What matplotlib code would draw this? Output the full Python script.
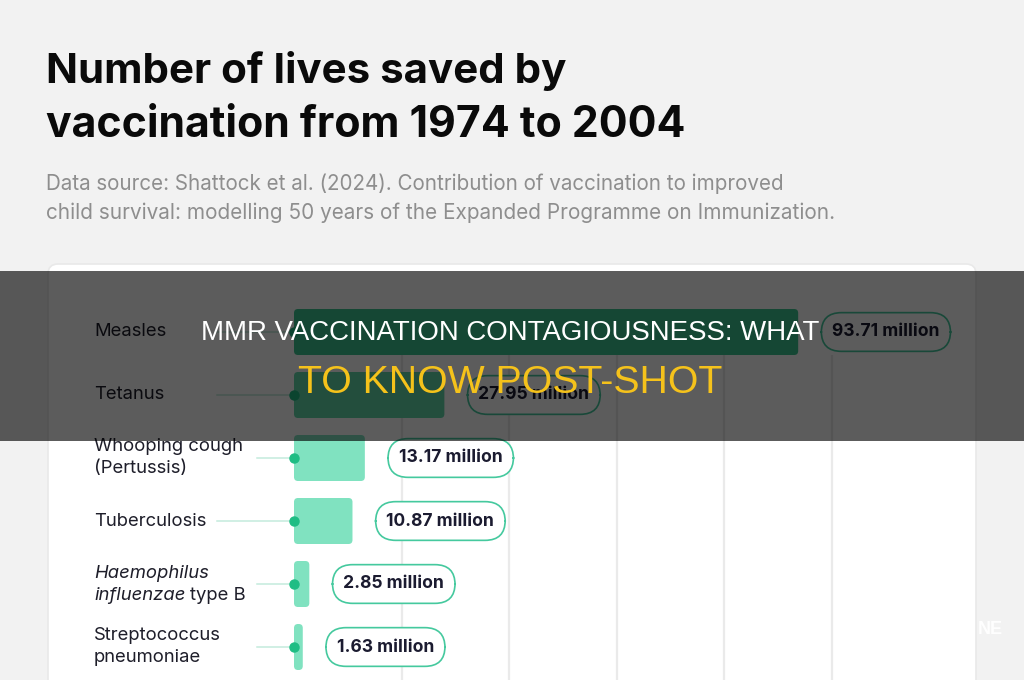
import matplotlib
matplotlib.use("Agg")
import matplotlib.pyplot as plt
from matplotlib.patches import FancyBboxPatch, Rectangle
import matplotlib.transforms as mtransforms

# ---------------- data ----------------
categories = ["Measles", "Tetanus", "Whooping cough\n(Pertussis)", "Tuberculosis",
              "Haemophilus\ninfluenzae type B", "Streptococcus\npneumoniae"]
values = [93.71, 27.95, 13.17, 10.87, 2.85, 1.63]
value_labels = ["93.71 million", "27.95 million", "13.17 million", "10.87 million",
                "2.85 million", "1.63 million"]
grid_values = [20, 40, 60, 80, 100]
bar_colors = ["#3cc690", "#62d8ab", "#80e2c0", "#80e2c0", "#80e2c0", "#80e2c0"]

title_lines = ["Number of lives saved by", "vaccination from 1974 to 2004"]
subtitle_lines = ["Data source: Shattock et al. (2024). Contribution of vaccination to improved",
                  "child survival: modelling 50 years of the Expanded Programme on Immunization."]
banner_lines = ["MMR VACCINATION CONTAGIOUSNESS: WHAT", "TO KNOW POST-SHOT"]

W, H = 1024, 680
fig = plt.figure(figsize=(W / 100, H / 100), dpi=100)
fig.patch.set_facecolor("#f2f2f2")
renderer = fig.canvas.get_renderer()


def fit(t, target_w):
    bb = t.get_window_extent(renderer)
    t.set_fontsize(t.get_fontsize() * target_w / bb.width)


# background axes in pixel coords
bg = fig.add_axes([0, 0, 1, 1], zorder=0)
bg.set_xlim(0, W)
bg.set_ylim(H, 0)
bg.axis("off")
bg.set_facecolor("none")

# white card
card = FancyBboxPatch((48, 264), 928, 460, boxstyle="round,pad=0,rounding_size=10",
                      fc="white", ec="#e9e9e9", lw=1.2)
bg.add_patch(card)

# title & subtitle
title_base = [83, 137]
title_w = [521, 640]
for line, yb, tw in zip(title_lines, title_base, title_w):
    t = bg.text(46, yb, line, fontsize=36, fontweight="bold", family=["Inter", "DejaVu Sans"],
                color="#0a0a0a", ha="left", va="baseline")
    fit(t, tw)

sub_base = [190, 219]
sub_w = [740, 790]
for line, yb, tw in zip(subtitle_lines, sub_base, sub_w):
    t = bg.text(46, yb, line, fontsize=16, family=["Inter", "DejaVu Sans"],
                color="#8e8e8e", ha="left", va="baseline")
    fit(t, tw)

# ---------------- chart axes ----------------
px_per_m = 5.38
x0_px, x1_px = 294, 976
top_px, bot_px = 264, H
row0_px, row_step = 332, 63
ax = fig.add_axes([x0_px / W, 0, (x1_px - x0_px) / W, (bot_px - top_px) / H], zorder=1)
ax.set_facecolor("none")
ax.set_xlim(0, (x1_px - x0_px) / px_per_m)
ax.set_ylim((bot_px - row0_px) / row_step, (top_px - row0_px) / row_step)
ax.axis("off")

ypos = list(range(len(categories)))
ymax = (bot_px - row0_px) / row_step
ax.vlines(grid_values, (355 - row0_px) / row_step, ymax, colors="#eaeaea", lw=1.6, zorder=0)

bars = ax.barh(ypos, values, height=46 / row_step, color=bar_colors)
x_unit = 1 / px_per_m
y_unit = 1 / row_step
for b, c in zip(bars, bar_colors):
    x, y = b.get_x(), b.get_y()
    w, h = b.get_width(), b.get_height()
    b.remove()
    r = min(4 * x_unit, w / 2)
    p = FancyBboxPatch((x, y), w, h, boxstyle=f"round,pad=0,rounding_size={r}",
                       mutation_aspect=y_unit / x_unit, fc=c, ec="none", zorder=2)
    ax.add_patch(p)

blend = mtransforms.blended_transform_factory(ax.transAxes, ax.transData)
axw = x1_px - x0_px
lab_x = (94 - x0_px) / axw
label_font = ["Inter", "DejaVu Sans"]
half = 11 / row_step
for yi, cat, v, vl in zip(ypos, categories, values, value_labels):
    two = "\n" in cat
    start = (257 if two else 217) - x0_px
    ax.plot([start / axw, 0], [yi, yi], transform=blend, color="#c4ebdc", lw=1.1,
            clip_on=False, zorder=1)
    ax.plot([0], [yi], "o", color="#1fbd84", ms=6.5, clip_on=False, zorder=3)
    if cat.startswith("Haemophilus"):
        ax.text(lab_x, yi - half, "Haemophilus", transform=blend, style="italic",
                fontsize=13.3, family=label_font, color="#1e1e2a", va="center", ha="left")
        t2 = ax.text(lab_x, yi + half, "influenzae", transform=blend, style="italic",
                     fontsize=13.3, family=label_font, color="#1e1e2a", va="center", ha="left")
        ax.annotate("type B", xy=(1, 0), xycoords=t2, xytext=(3.5, 0),
                    textcoords="offset points", fontsize=13.3, family=label_font,
                    color="#1e1e2a", va="bottom", ha="left")
    elif two:
        l1, l2 = cat.split("\n")
        ax.text(lab_x, yi - half, l1, transform=blend, fontsize=13.3, family=label_font,
                color="#1e1e2a", va="center", ha="left")
        ax.text(lab_x, yi + half, l2, transform=blend, fontsize=13.3, family=label_font,
                color="#1e1e2a", va="center", ha="left")
    else:
        ax.text(lab_x, yi, cat, transform=blend, fontsize=13.3, family=label_font,
                color="#1e1e2a", va="center", ha="left")
    ax.annotate(vl, xy=(v, yi), xytext=(34 * 0.72, 0), textcoords="offset points",
                ha="left", va="center", fontsize=12.6, fontweight="bold", family=label_font,
                color="#1b1b30", zorder=4,
                bbox=dict(boxstyle="round,pad=0.62,rounding_size=1.15", fc="white",
                          ec="#45c99e", lw=1.2))

# ---------------- overlay banner ----------------
ov = fig.add_axes([0, 0, 1, 1], zorder=5)
ov.set_xlim(0, W)
ov.set_ylim(H, 0)
ov.axis("off")
ov.set_facecolor("none")
ov.add_patch(Rectangle((0, 271), W, 170, fc="black", alpha=0.64, ec="none"))
b1 = ov.text(510, 333, banner_lines[0], ha="center", va="center", color="white",
             fontsize=20, family=["Liberation Sans", "DejaVu Sans"])
fit(b1, 620)
b2 = ov.text(510, 383, banner_lines[1], ha="center", va="center", color="#f5c21b",
             fontsize=28, family=["Liberation Sans", "DejaVu Sans"])
fit(b2, 425)
ov.text(990, 630, "NE", ha="center", va="center", color="white", fontsize=13,
        fontweight="bold", family=["Liberation Sans", "DejaVu Sans"], alpha=0.95)

fig.savefig("out.png", dpi=100, facecolor=fig.get_facecolor())
